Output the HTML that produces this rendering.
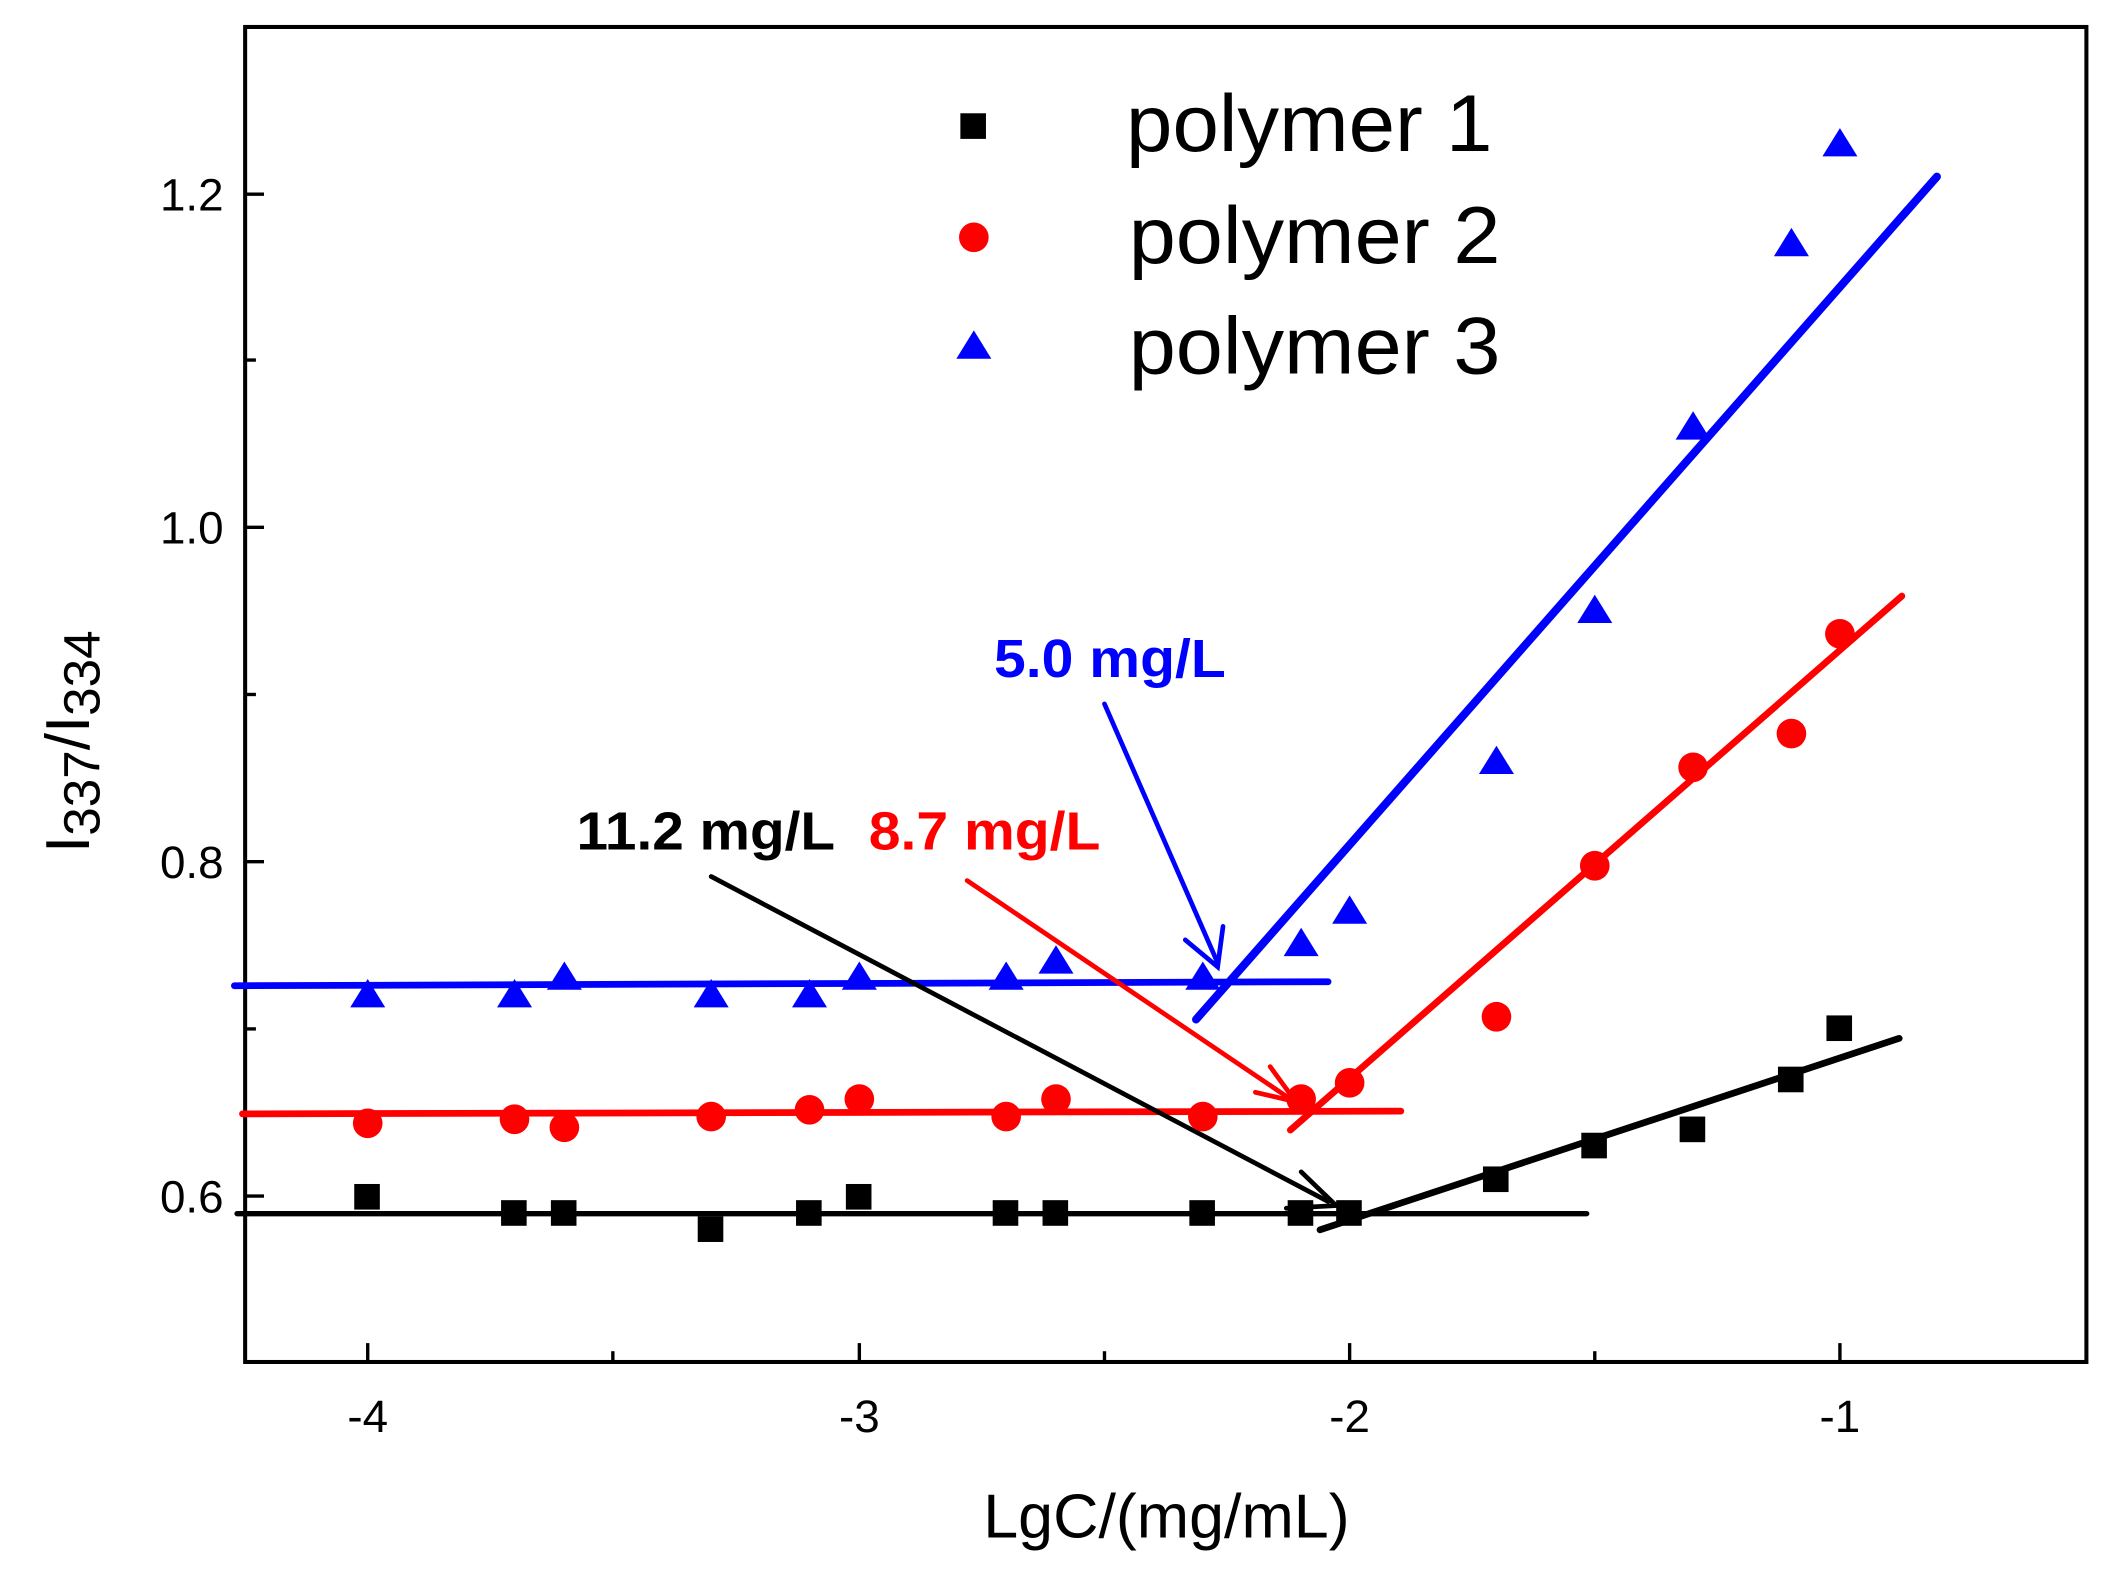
<!DOCTYPE html>
<html><head><meta charset="utf-8"><style>html,body{margin:0;padding:0;background:#fff;}svg{display:block;}</style></head><body>
<svg width="2112" height="1571" viewBox="0 0 1568 1165" preserveAspectRatio="none" xmlns="http://www.w3.org/2000/svg" font-family="Liberation Sans, Arial, sans-serif">
<rect x="0" y="0" width="1568" height="1165" fill="#fff"/>
<rect x="182" y="20" width="1367" height="990" fill="none" stroke="#000" stroke-width="3"/>
<g stroke="#000" stroke-width="2.5">
<line x1="182" y1="144" x2="196" y2="144"/><line x1="182" y1="391" x2="196" y2="391"/><line x1="182" y1="639" x2="196" y2="639"/><line x1="182" y1="887" x2="196" y2="887"/>
<line x1="182" y1="267" x2="190" y2="267"/><line x1="182" y1="515" x2="190" y2="515"/><line x1="182" y1="763" x2="190" y2="763"/>
<line x1="273" y1="1010" x2="273" y2="996"/><line x1="638" y1="1010" x2="638" y2="996"/><line x1="1002" y1="1010" x2="1002" y2="996"/><line x1="1366" y1="1010" x2="1366" y2="996"/>
<line x1="455" y1="1010" x2="455" y2="1002"/><line x1="820" y1="1010" x2="820" y2="1002"/><line x1="1184" y1="1010" x2="1184" y2="1002"/>
</g>
<g font-size="34" text-anchor="end" fill="#000">
<text x="166" y="156">1.2</text><text x="166" y="403">1.0</text><text x="166" y="651">0.8</text><text x="166" y="899">0.6</text>
</g>
<g font-size="34" text-anchor="middle" fill="#000">
<text x="273" y="1062">-4</text><text x="638" y="1062">-3</text><text x="1002" y="1062">-2</text><text x="1366" y="1062">-1</text>
</g>
<text x="730" y="1140" font-size="46" textLength="272" lengthAdjust="spacingAndGlyphs">LgC/(mg/mL)</text>
<text transform="translate(66,550) rotate(-90)" font-size="46" text-anchor="middle">I<tspan font-size="38" dy="8">337</tspan><tspan dy="-8">/I</tspan><tspan font-size="38" dy="8">334</tspan></text>
<g stroke-linecap="round">
<line x1="176" y1="900" x2="1178" y2="900" stroke="#000" stroke-width="4"/>
<line x1="980" y1="912" x2="1410" y2="770" stroke="#000" stroke-width="5"/>
<line x1="180" y1="826" x2="1040" y2="824" stroke="#f00" stroke-width="5"/>
<line x1="958" y1="838" x2="1412" y2="442" stroke="#f00" stroke-width="5"/>
<line x1="174" y1="731" x2="986" y2="728" stroke="#00f" stroke-width="5"/>
<line x1="888" y1="756" x2="1438" y2="131" stroke="#00f" stroke-width="6"/>
</g>
<g stroke-width="3.5" stroke-linecap="round">
<line x1="528" y1="650" x2="986" y2="891" stroke="#000"/>
<polyline points="966,869 992,894 955,896" fill="none" stroke="#000"/>
<line x1="718" y1="653" x2="958" y2="815" stroke="#f00"/>
<polyline points="943,791 962,817 932,810" fill="none" stroke="#f00"/>
<line x1="820" y1="522" x2="904" y2="714" stroke="#00f"/>
<polyline points="880,697 904,717 908,687" fill="none" stroke="#00f"/>
</g>
<g font-size="40" font-weight="bold">
<text x="428" y="630" fill="#000" textLength="192" lengthAdjust="spacingAndGlyphs">11.2 mg/L</text>
<text x="645" y="630" fill="#f00" textLength="172" lengthAdjust="spacingAndGlyphs">8.7 mg/L</text>
<text x="738" y="502" fill="#00f" textLength="172" lengthAdjust="spacingAndGlyphs">5.0 mg/L</text>
</g>
<g fill="#000">
<rect x="263" y="878" width="19" height="19"/><rect x="372" y="890" width="19" height="19"/><rect x="409" y="890" width="19" height="19"/><rect x="518" y="902" width="19" height="19"/><rect x="591" y="890" width="19" height="19"/><rect x="628" y="878" width="19" height="19"/><rect x="737" y="890" width="19" height="19"/><rect x="774" y="890" width="19" height="19"/><rect x="883" y="890" width="19" height="19"/><rect x="956" y="890" width="19" height="19"/><rect x="992" y="890" width="19" height="19"/><rect x="1101" y="865" width="19" height="19"/><rect x="1174" y="840" width="19" height="19"/><rect x="1247" y="828" width="19" height="19"/><rect x="1320" y="791" width="19" height="19"/><rect x="1356" y="753" width="19" height="19"/>
</g>
<g fill="#f00">
<circle cx="273" cy="833" r="11"/><circle cx="382" cy="830" r="11"/><circle cx="419" cy="836" r="11"/><circle cx="528" cy="828" r="11"/><circle cx="601" cy="823" r="11"/><circle cx="638" cy="815" r="11"/><circle cx="747" cy="828" r="11"/><circle cx="784" cy="815" r="11"/><circle cx="893" cy="828" r="11"/><circle cx="966" cy="815" r="11"/><circle cx="1002" cy="803" r="11"/><circle cx="1111" cy="754" r="11"/><circle cx="1184" cy="642" r="11"/><circle cx="1257" cy="569" r="11"/><circle cx="1330" cy="544" r="11"/><circle cx="1366" cy="470" r="11"/>
</g>
<g fill="#00f">
<path d="M273,726 l-13,21 h26z"/><path d="M382,726 l-13,21 h26z"/><path d="M419,713 l-13,21 h26z"/><path d="M528,726 l-13,21 h26z"/><path d="M601,726 l-13,21 h26z"/><path d="M638,713 l-13,21 h26z"/><path d="M747,713 l-13,21 h26z"/><path d="M784,701 l-13,21 h26z"/><path d="M893,713 l-13,21 h26z"/><path d="M966,688 l-13,21 h26z"/><path d="M1002,664 l-13,21 h26z"/><path d="M1111,553 l-13,21 h26z"/><path d="M1184,441 l-13,21 h26z"/><path d="M1257,305 l-13,21 h26z"/><path d="M1330,169 l-13,21 h26z"/><path d="M1366,95 l-13,21 h26z"/>
</g>
<rect x="713" y="84" width="19" height="19" fill="#000"/>
<circle cx="723" cy="176" r="11" fill="#f00"/>
<path d="M723,245 l-13,21 h26z" fill="#00f"/>
<g font-size="60" fill="#000">
<text x="836" y="112" textLength="272" lengthAdjust="spacingAndGlyphs">polymer 1</text><text x="838" y="195" textLength="276" lengthAdjust="spacingAndGlyphs">polymer 2</text><text x="838" y="277" textLength="276" lengthAdjust="spacingAndGlyphs">polymer 3</text>
</g>
</svg>
</body></html>
